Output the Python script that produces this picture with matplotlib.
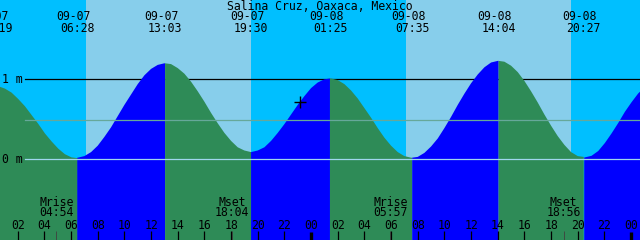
import matplotlib
matplotlib.use("Agg")
import matplotlib.pyplot as plt

# tide heights (m) every half hour from 2025-09-07 00:00
times = [i / 2 for i in range(100)]
heights = [0.91, 0.92, 0.89, 0.84, 0.76, 0.67, 0.56, 0.45, 0.33, 0.23,
           0.14, 0.07, 0.03, 0.02, 0.04, 0.09, 0.17, 0.28, 0.40, 0.54,
           0.68, 0.81, 0.94, 1.05, 1.13, 1.18, 1.20, 1.19, 1.14, 1.07,
           0.97, 0.85, 0.72, 0.58, 0.45, 0.33, 0.23, 0.15, 0.11, 0.09,
           0.11, 0.15, 0.23, 0.33, 0.44, 0.56, 0.68, 0.79, 0.89, 0.96,
           1.00, 1.01, 0.99, 0.94, 0.86, 0.76, 0.64, 0.52, 0.39, 0.27,
           0.17, 0.09, 0.04, 0.02, 0.03, 0.08, 0.16, 0.26, 0.39, 0.53,
           0.68, 0.82, 0.95, 1.06, 1.15, 1.21, 1.23, 1.22, 1.17, 1.09,
           0.98, 0.85, 0.71, 0.56, 0.42, 0.29, 0.18, 0.09, 0.04, 0.03,
           0.05, 0.11, 0.21, 0.33, 0.46, 0.60, 0.72, 0.83, 0.91, 0.96]

# highs and lows
ext_day = [7, 7, 7, 7, 8, 8, 8, 8, 9]
ext_clock = ["00:19", "06:28", "13:03", "19:30", "01:25", "07:35", "14:04", "20:27", "01:51"]
ext_kind = ["H", "L", "H", "L", "H", "L", "H", "L", "H"]
ext_height = [0.92, 0.02, 1.20, 0.09, 1.01, 0.02, 1.23, 0.03, 0.97]

# sun and moon
sun_day = [7, 8]
sunrise = ["07:07", "07:07"]
sunset = ["19:30", "19:30"]
moon_day = [7, 7, 8, 8]
moon_kind = ["Mrise", "Mset", "Mrise", "Mset"]
moon_clock = ["04:54", "18:04", "05:57", "18:56"]

now_clock, now_height = "23:10", 0.72
msl = 0.49
title = "Salina Cruz, Oaxaca, Mexico"


def to_h(day, clock):
    hh, mm = clock.split(":")
    return (day - 7) * 24 + int(hh) + int(mm) / 60


ext_t = [to_h(d, c) for d, c in zip(ext_day, ext_clock)]

x0, x1 = 0.67, 48.67
px = (x1 - x0) / 640          # hours per pixel
py = 1 / 80                   # metres per pixel
y0, y1 = -80.7 * py, 159.3 * py

night, day = "#00bfff", "#87ceeb"
flood, ebb = "#0000ff", "#2e8b57"
font = dict(family="DejaVu Sans Mono", fontsize=8.3, color="black")

fig = plt.figure(figsize=(6.4, 2.4), dpi=100)
ax = fig.add_axes([0, 0, 1, 1])
ax.axis("off")
ax.set_xlim(x0, x1)
ax.set_ylim(y0, y1)

ax.axvspan(x0 - 5, x1 + 5, color=night, lw=0, zorder=0)
for d, r, s in zip(sun_day, sunrise, sunset):
    ax.axvspan(to_h(d, r), to_h(d, s), color=day, lw=0, zorder=0.5)

ax.plot([x0 + 25 * px, x1], [1, 1], color="black", lw=0.9, zorder=1)

# tide curve, coloured blue while rising and green while falling
pts = sorted(list(zip(times, heights)) + list(zip(ext_t, ext_height)))
bounds = [-10] + ext_t + [100]
n = len(ext_t)
for i in range(n + 1):
    a, b = bounds[i], bounds[i + 1]
    seg = [p for p in pts if a <= p[0] <= b]
    if len(seg) < 2:
        continue
    rising = ext_kind[i] == "H" if i < n else ext_kind[-1] == "L"
    ax.fill_between([p[0] for p in seg], [p[1] for p in seg], y0 - 1,
                    color=flood if rising else ebb, lw=0, zorder=2)

ax.plot([x0 + 25 * px, x1], [0, 0], color="#9fd6ee", lw=0.9, zorder=3)
ax.plot([x0 + 25 * px, x1], [msl, msl], color="#66a89a", lw=0.9, zorder=3)

ax.text(x0 + 2 * px, 1, "1 m", ha="left", va="center", **font)
ax.text(x0 + 2 * px, 0, "0 m", ha="left", va="center", **font)

ax.plot(to_h(7, now_clock), now_height, marker="+", color="black",
        ms=9, mew=1.0, zorder=5)

ax.text((x0 + x1) / 2, y1 - 6 * py, title, ha="center", va="center", **font)
for t, d, c in zip(ext_t, ext_day, ext_clock):
    if t > x1:
        continue
    ax.text(t - 4 * px, y1 - 16 * py, "09-%02d" % d, ha="center", va="center", **font)
    ax.text(t, y1 - 29 * py, c, ha="center", va="center", **font)

for d, k, c in zip(moon_day, moon_kind, moon_clock):
    t = to_h(d, c)
    ax.text(t, y1 - 202 * py, k, ha="center", va="center", **font)
    ax.text(t, y1 - 213 * py, c, ha="center", va="center", **font)
    ax.vlines(t, y0, y1 - 231 * py, color="#404040", lw=0.6, zorder=4)

for h in range(2, 49, 2):
    mid = h % 24 == 0
    ax.vlines(h, y0, y1 - (232 if mid else 231) * py, color="black",
              lw=2.4 if mid else 0.9, zorder=4)
    ax.text(h, y1 - 225.5 * py, "%02d" % (h % 24), ha="center", va="center", **font)

fig.savefig("out.png", dpi=100)
